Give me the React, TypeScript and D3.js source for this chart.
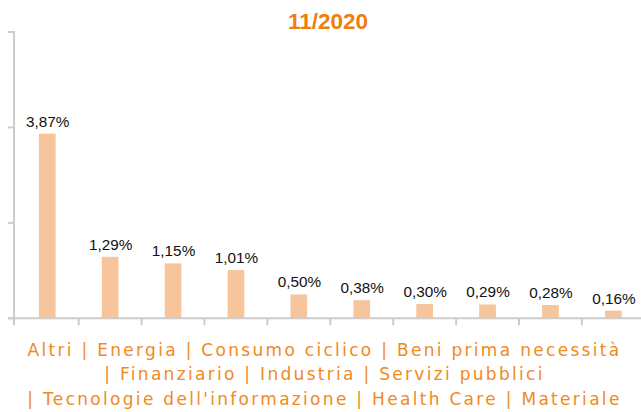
import React from "react";
import * as d3 from "d3";

const title = "11/2020";
const categories = [
  "Altri",
  "Energia",
  "Consumo ciclico",
  "Beni prima necessità",
  "Finanziario",
  "Industria",
  "Servizi pubblici",
  "Tecnologie dell'informazione",
  "Health Care",
  "Materiale",
];
const values = [3.87, 1.29, 1.15, 1.01, 0.5, 0.38, 0.3, 0.29, 0.28, 0.16];
const yTicks = [0, 2, 4, 6];
const lineBreaks = [4, 7];

const W = 641;
const H = 412;
const axisColor = "#cccccc";
const barColor = "#F6C59B";
const orange = "#F08A24";

function fmt(v: number) {
  return v.toFixed(2).replace(".", ",") + "%";
}

export default function App() {
  const x = d3.scaleBand<string>().domain(categories).range([15.8, 644.8]).padding(0);
  const y = d3.scaleLinear().domain([0, 6]).range([318.3, 32]);
  const bw = 16.7;
  const axisX = 14;
  const y0 = y(0);

  const lines: string[] = [];
  let start = 0;
  [...lineBreaks, categories.length].forEach((b, i) => {
    const part = categories.slice(start, b).join(" | ");
    lines.push(i === 0 ? part : "| " + part);
    start = b;
  });

  const boundaries = categories.map((c) => x(c) as number).slice(1);

  return (
    <svg width={W} height={H} style={{ position: "absolute", left: 0, top: 0 }}>
      <text
        x={328}
        y={28.5}
        textAnchor="middle"
        fontFamily="'Liberation Sans', Arial, sans-serif"
        fontWeight="bold"
        fontSize={22.5}
        fill="#EF7F0C"
      >
        {title}
      </text>
      {/* y axis */}
      <line x1={axisX} x2={axisX} y1={y(6) - 1} y2={y0 + 7} stroke={axisColor} strokeWidth={2} />
      {yTicks.map((t) => (
        <line key={t} x1={8} x2={axisX} y1={y(t)} y2={y(t)} stroke={axisColor} strokeWidth={2} />
      ))}
      {/* bars */}
      {categories.map((c, i) => {
        const cx = (x(c) as number) + x.bandwidth() / 2;
        return (
          <g key={c}>
            <rect x={cx - bw / 2} y={y(values[i])} width={bw} height={y0 - y(values[i])} fill={barColor} />
            <text
              x={cx + 0.5}
              y={y(values[i]) - 7}
              textAnchor="middle"
              fontFamily="'Liberation Sans', Arial, sans-serif"
              fontSize={15.3}
              fill="#111"
            >
              {fmt(values[i])}
            </text>
          </g>
        );
      })}
      {/* x axis */}
      <line x1={8} x2={W} y1={y0} y2={y0} stroke={axisColor} strokeWidth={2} />
      {boundaries.map((b, i) => (
        <line key={i} x1={b} x2={b} y1={y0} y2={y0 + 7} stroke={axisColor} strokeWidth={2} />
      ))}
      {/* category label */}
      {lines.map((l, i) => (
        <text
          key={i}
          x={324.5}
          y={355.7 + i * 24.6}
          textAnchor="middle"
          fontFamily="'DejaVu Sans', Verdana, sans-serif"
          fontSize={17}
          letterSpacing={2.3}
          fill={orange}
        >
          {l}
        </text>
      ))}
    </svg>
  );
}
